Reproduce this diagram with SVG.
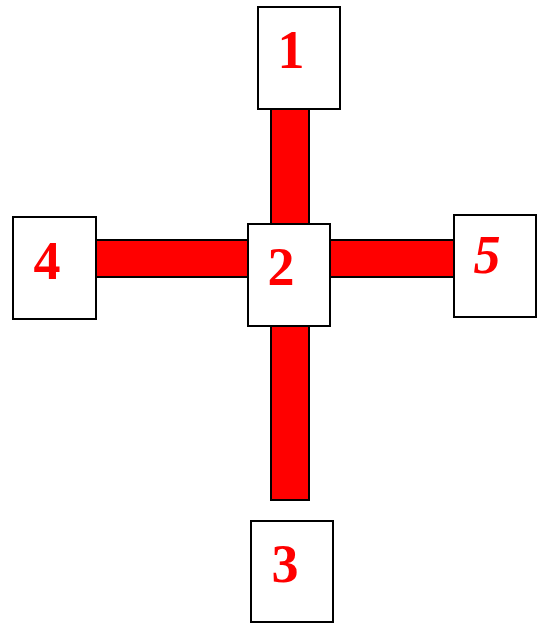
<svg xmlns="http://www.w3.org/2000/svg" width="537" height="623" viewBox="0 0 537 623">
<style>
.bar{fill:#ff0000;stroke:#000;stroke-width:2}
.box{fill:#fff;stroke:#000;stroke-width:2}
.lbl{fill:#ff0000;font-family:"Liberation Serif",serif;font-weight:bold;font-size:54px;text-anchor:middle}
</style>
<rect width="537" height="623" fill="#fff"/>
<g id="connectors">
<rect class="bar" x="271" y="100" width="38" height="400"/>
<rect class="bar" x="90" y="240" width="370" height="37"/>
</g>
<g id="node1"><rect class="box" x="258" y="7" width="82" height="102"/><text class="lbl" x="291" y="68">1</text></g>
<g id="node4"><rect class="box" x="13" y="217" width="83" height="102"/><text class="lbl" x="47" y="279">4</text></g>
<g id="node2"><rect class="box" x="248" y="224" width="82" height="102"/><text class="lbl" x="281" y="285">2</text></g>
<g id="node5"><rect class="box" x="454" y="215" width="82" height="102"/><text class="lbl" x="487" y="273" font-style="italic">5</text></g>
<g id="node3"><rect class="box" x="251" y="521" width="82" height="101"/><text class="lbl" x="285" y="582">3</text></g>
</svg>
